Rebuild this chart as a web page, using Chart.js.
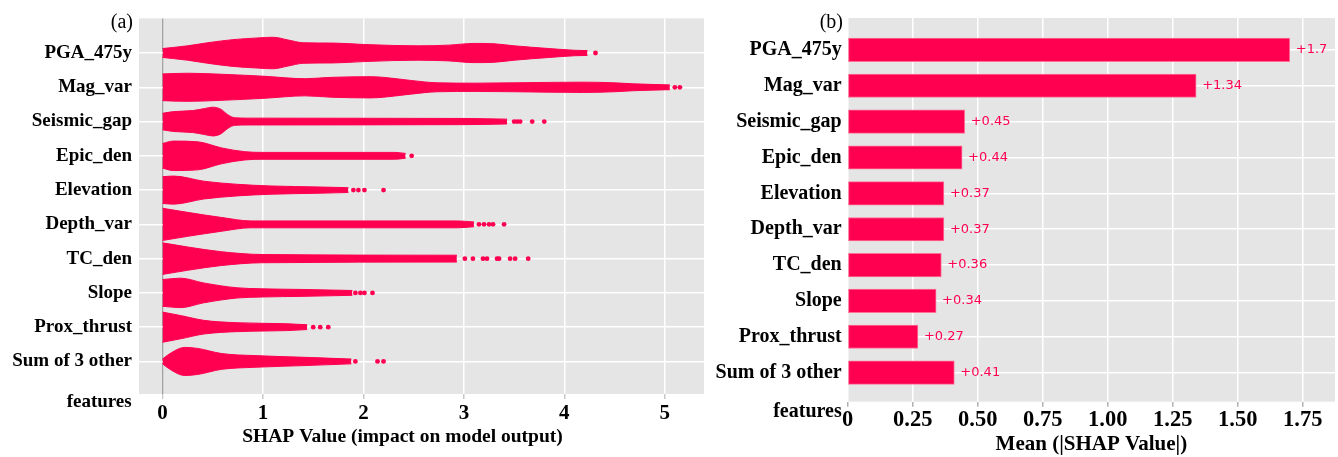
<!DOCTYPE html>
<html>
<head>
<meta charset="utf-8">
<script src="https://cdn.jsdelivr.net/npm/chart.js@4.4.0/dist/chart.umd.min.js"></script>
<style>
body { margin: 0; background: #fff; width: 1338px; height: 457px; overflow: hidden; position: relative; }
canvas { position: absolute; top: 0; }
#shapSwarm { left: 0; }
#shapBar { left: 706px; }
</style>
</head>
<body>
<canvas id="shapSwarm" width="712" height="457"></canvas>
<canvas id="shapBar" width="632" height="457"></canvas>
<script>
"use strict";

var features = ['PGA_475y', 'Mag_var', 'Seismic_gap', 'Epic_den', 'Elevation',
    'Depth_var', 'TC_den', 'Slope', 'Prox_thrust', 'Sum of 3 other'];
var meanAbsShap = [1.7, 1.34, 0.45, 0.44, 0.37, 0.37, 0.36, 0.34, 0.27, 0.41];
var swarmTicks = [0, 1, 2, 3, 4, 5];
var barTicks = [0, 0.25, 0.5, 0.75, 1, 1.25, 1.5, 1.75];

// outline of each swarm: [shap value, half height of the swarm in rows]
var swarmPGA = [[0, 0.13], [0.1, 0.16], [0.25, 0.21], [0.45, 0.3], [0.7, 0.39], [0.95, 0.44],
    [1.1, 0.46], [1.25, 0.38], [1.4, 0.3], [1.7, 0.29], [2.0, 0.25], [2.3, 0.22],
    [2.55, 0.21], [2.85, 0.23], [3.1, 0.28], [3.3, 0.27], [3.5, 0.21], [3.85, 0.13],
    [4.1, 0.08], [4.23, 0.07]];
var swarmMag = [[0, 0.39], [0.25, 0.41], [0.59, 0.38], [1.02, 0.32], [1.42, 0.25], [1.68, 0.29],
    [2.07, 0.31], [2.2, 0.29], [2.47, 0.2], [2.74, 0.13], [3.11, 0.12], [3.5, 0.13],
    [4.19, 0.15], [4.5, 0.13], [4.69, 0.1], [5.05, 0.07]];
var swarmSeismic = [[0, 0.24], [0.11, 0.29], [0.3, 0.32], [0.42, 0.38], [0.5, 0.42], [0.58, 0.36],
    [0.65, 0.2], [0.72, 0.11], [0.85, 0.1], [3.0, 0.09], [3.43, 0.07]];
var swarmEpic = [[0, 0.36], [0.11, 0.43], [0.35, 0.41], [0.59, 0.23], [0.82, 0.12], [1.0, 0.1],
    [2.31, 0.1], [2.42, 0.07]];
var swarmElev = [[0, 0.39], [0.11, 0.41], [0.41, 0.26], [0.74, 0.17], [1.08, 0.12], [1.57, 0.09],
    [1.85, 0.07]];
var swarmDepth = [[0, 0.47], [0.25, 0.35], [0.59, 0.2], [0.88, 0.1], [2.93, 0.1], [3.1, 0.07]];
var swarmTC = [[0, 0.46], [0.25, 0.34], [0.59, 0.2], [0.99, 0.12], [2.93, 0.1]];
var swarmSlope = [[0, 0.39], [0.18, 0.43], [0.41, 0.29], [0.74, 0.15], [0.98, 0.12], [1.41, 0.1],
    [1.89, 0.07]];
var swarmProx = [[0, 0.44], [0.18, 0.34], [0.41, 0.2], [0.74, 0.13], [1.24, 0.1], [1.44, 0.07]];
var swarmOther = [[0, 0.07], [0.09, 0.26], [0.22, 0.41], [0.35, 0.38], [0.59, 0.23], [0.92, 0.17],
    [1.42, 0.12], [1.88, 0.07]];

// single points beyond the end of each swarm
var outPGA = [4.31];
var outMag = [5.1, 5.15];
var outSeismic = [3.5, 3.53, 3.56, 3.68, 3.8];
var outEpic = [2.48];
var outElev = [1.9, 1.95, 2.01, 2.2];
var outDepth = [3.15, 3.2, 3.25, 3.29, 3.4];
var outTC = [3.01, 3.09, 3.19, 3.23, 3.33, 3.35, 3.46, 3.51, 3.64];
var outSlope = [1.92, 1.97, 2.01, 2.09];
var outProx = [1.5, 1.57, 1.65];
var outOther = [1.92, 2.14, 2.2];

var swarmShapes = [swarmPGA, swarmMag, swarmSeismic, swarmEpic, swarmElev,
    swarmDepth, swarmTC, swarmSlope, swarmProx, swarmOther];
var swarmOutliers = [outPGA, outMag, outSeismic, outEpic, outElev,
    outDepth, outTC, outSlope, outProx, outOther];

var shapRed = '#ff0051';
var panelGrey = '#e5e5e5';
var serif = "'Liberation Serif', 'Times New Roman', serif";

// grey panel behind the grid
var panelBackground = {
    id: 'panelBackground',
    beforeDraw: function(chart) {
        var a = chart.chartArea;
        var ctx = chart.ctx;
        ctx.save();
        ctx.fillStyle = panelGrey;
        ctx.fillRect(a.left, a.top, a.right - a.left, a.bottom - a.top);
        ctx.restore();
    }
};

// free text: panel letters, the 2nd line of the last label and the axis titles
function textPlugin(items) {
    return {
        id: 'freeText',
        afterDraw: function(chart) {
            var ctx = chart.ctx;
            ctx.save();
            ctx.fillStyle = '#000';
            ctx.textBaseline = 'middle';
            items.forEach(function(t) {
                ctx.font = t.font;
                ctx.textAlign = t.align;
                ctx.fillText(t.text, t.x, t.y);
            });
            ctx.restore();
        }
    };
}

function fixTicks(list) {
    return function(scale) {
        scale.ticks = list.map(function(v) { return {value: v}; });
    };
}

//Beeswarm (a)
var swarmDatasets = [];
swarmShapes.forEach(function(shape, row) {
    swarmDatasets.push({
        data: shape.map(function(p) { return {x: p[0], y: row - p[1]}; }),
        borderColor: shapRed,
        backgroundColor: shapRed,
        borderWidth: 1,
        pointRadius: 0,
        cubicInterpolationMode: 'monotone',
        fill: '+1'
    });
    swarmDatasets.push({
        data: shape.map(function(p) { return {x: p[0], y: row + p[1]}; }),
        borderColor: shapRed,
        borderWidth: 1,
        pointRadius: 0,
        cubicInterpolationMode: 'monotone',
        fill: false
    });
    swarmDatasets.push({
        data: swarmOutliers[row].map(function(v) { return {x: v, y: row}; }),
        showLine: false,
        pointRadius: 2.4,
        pointBorderWidth: 0,
        pointBackgroundColor: shapRed,
        fill: false
    });
});

var swarmChart = new Chart(document.getElementById('shapSwarm'), {
    type: 'line',
    data: {datasets: swarmDatasets},
    options: {
        responsive: false,
        animation: false,
        events: [],
        layout: {padding: {top: 18, right: 8, left: 0, bottom: 0}},
        plugins: {legend: {display: false}, tooltip: {enabled: false}},
        scales: {
            x: {
                type: 'linear',
                min: -0.234,
                max: 5.39,
                afterBuildTicks: fixTicks(swarmTicks),
                afterFit: function(scale) { scale.height = 63; },
                border: {display: false},
                grid: {
                    color: function(c) { return c.tick && c.tick.value === 0 ? '#a3a3a3' : '#ffffff'; },
                    lineWidth: function(c) { return c.tick && c.tick.value === 0 ? 1.3 : 1.5; },
                    tickLength: 5,
                    tickColor: '#c8c8c8'
                },
                ticks: {
                    padding: 2,
                    color: '#000',
                    font: {family: serif, weight: 'bold', size: 21},
                    callback: function(v) { return String(v); }
                }
            },
            y: {
                type: 'linear',
                reverse: true,
                min: -1.01,
                max: 9.95,
                afterBuildTicks: fixTicks(features.map(function(f, i) { return i; })),
                afterFit: function(scale) { scale.width = 139; },
                border: {display: false},
                grid: {color: '#ffffff', lineWidth: 1.5, drawTicks: false},
                ticks: {
                    padding: 7,
                    color: '#000',
                    font: {family: serif, weight: 'bold', size: 19},
                    callback: function(v) { return features[v]; }
                }
            }
        }
    },
    plugins: [panelBackground, textPlugin([
        {text: '(a)', x: 133, y: 23, align: 'right', font: '20px ' + serif},
        {text: 'features', x: 131.7, y: 401.7, align: 'right', font: 'bold 19px ' + serif},
        {text: 'SHAP Value (impact on model output)', x: 402.5, y: 437, align: 'center', font: 'bold 19.5px ' + serif}
    ])]
});

//Bar chart (b)
var barLabels = {
    id: 'barLabels',
    afterDatasetsDraw: function(chart) {
        var ctx = chart.ctx;
        var meta = chart.getDatasetMeta(0);
        ctx.save();
        ctx.font = "13px 'DejaVu Sans', sans-serif";
        ctx.fillStyle = shapRed;
        ctx.textAlign = 'left';
        ctx.textBaseline = 'middle';
        meta.data.forEach(function(bar, i) {
            ctx.fillText('+' + meanAbsShap[i], bar.x + 6, bar.y);
        });
        ctx.restore();
    }
};

var barChart = new Chart(document.getElementById('shapBar'), {
    type: 'bar',
    data: {
        datasets: [{
            data: meanAbsShap.map(function(v, i) { return {x: v, y: i}; }),
            backgroundColor: shapRed,
            borderColor: '#ff6f96',
            borderWidth: 1,
            borderSkipped: false,
            barThickness: 23.5
        }]
    },
    options: {
        indexAxis: 'y',
        responsive: false,
        animation: false,
        events: [],
        layout: {padding: {top: 15, right: 3, left: 0, bottom: 0}},
        plugins: {legend: {display: false}, tooltip: {enabled: false}},
        scales: {
            x: {
                type: 'linear',
                min: 0,
                max: 1.874,
                afterBuildTicks: fixTicks(barTicks),
                afterFit: function(scale) { scale.height = 55.3; },
                border: {display: false},
                grid: {color: '#ffffff', lineWidth: 1.5, tickLength: 5, tickColor: '#b0b0b0'},
                ticks: {
                    padding: 0,
                    color: '#000',
                    font: {family: serif, weight: 'bold', size: 22.5},
                    callback: function(v) { return v === 0 ? '0' : v.toFixed(2); }
                }
            },
            y: {
                type: 'linear',
                reverse: true,
                offset: false,
                min: -0.89,
                max: 9.81,
                afterBuildTicks: fixTicks(features.map(function(f, i) { return i; })),
                afterFit: function(scale) { scale.width = 141.7; },
                border: {display: false},
                grid: {color: '#ffffff', lineWidth: 1.5, drawTicks: false, offset: false},
                ticks: {
                    padding: 6,
                    color: '#000',
                    font: {family: serif, weight: 'bold', size: 20},
                    callback: function(v) { return features[v]; }
                }
            }
        }
    },
    plugins: [panelBackground, barLabels, textPlugin([
        {text: '(b)', x: 137, y: 23, align: 'right', font: '20px ' + serif},
        {text: 'features', x: 135.7, y: 411.7, align: 'right', font: 'bold 20px ' + serif},
        {text: 'Mean (|SHAP Value|)', x: 385.4, y: 445, align: 'center', font: 'bold 21px ' + serif}
    ])]
});
</script>
</body>
</html>
